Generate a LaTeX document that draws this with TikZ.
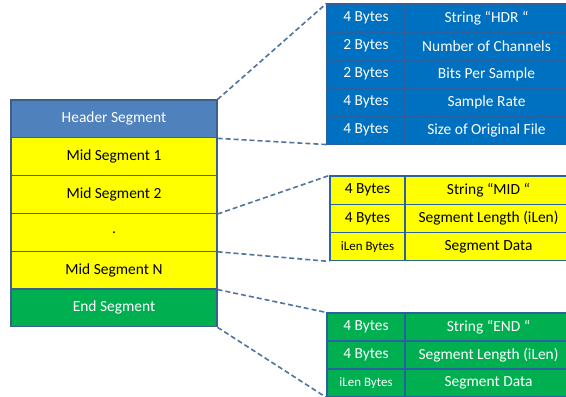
\documentclass[tikz,border=0pt]{standalone}
\usepackage{fontspec}
\setmainfont{Carlito}
\definecolor{hdrblue}{HTML}{4F81BD}
\definecolor{tblblue}{HTML}{0070C0}
\definecolor{gridblue}{HTML}{2A62A0}
\definecolor{edgeblue}{HTML}{3A5F8F}
\definecolor{segyellow}{HTML}{FFFF00}
\definecolor{seggreen}{HTML}{00B050}
\definecolor{dashblue}{HTML}{4F74A0}
\begin{document}
\begin{tikzpicture}[x=1bp,y=-1bp,
  cell/.style={draw=edgeblue, line width=1.1bp, inner sep=0pt, anchor=center, font=\fontsize{15.5}{18}\selectfont},
  seg/.style={cell, minimum width=206bp, minimum height=37.8bp},
  hcell/.style={cell, draw=gridblue, fill=tblblue, text=white, minimum height=28bp},
  mcell/.style={cell, draw=gridblue, fill=segyellow, minimum height=28.3bp},
  ecell/.style={cell, draw=gridblue, fill=seggreen, text=white, minimum height=28bp},
  lcol/.style={minimum width=78bp},
  rcol/.style={minimum width=163bp},
  lcolm/.style={minimum width=75bp},
  rcolm/.style={minimum width=167bp},
  small/.style={font=\fontsize{13}{15}\selectfont},
  conn/.style={draw=dashblue, line width=1.6bp, dash pattern=on 5bp off 3bp}
]
\clip (0,0) rectangle (566,396);
\fill[white] (0,0) rectangle (566,396);

% left stack
\node[seg, fill=hdrblue, text=white] (h)  at (114,118.9) {Header Segment};
\node[seg, fill=segyellow] (m1) at (114,156.7) {Mid Segment 1};
\node[seg, fill=segyellow] (m2) at (114,194.5) {Mid Segment 2};
\node[seg, fill=segyellow] (dot) at (114,232.3) {.};
\node[seg, fill=segyellow] (mn) at (114,270.1) {Mid Segment N};
\node[seg, fill=seggreen, text=white] (e) at (114,307.9) {End Segment};

% header table
\node[hcell, lcol] (h1a) at (366,18) {4 Bytes};
\node[hcell, rcol] (h1b) at (486.5,18) {String “HDR “};
\node[hcell, lcol] (h2a) at (366,46) {2 Bytes};
\node[hcell, rcol] (h2b) at (486.5,46) {Number of Channels};
\node[hcell, lcol] (h3a) at (366,74) {2 Bytes};
\node[hcell, rcol] (h3b) at (486.5,74) {Bits Per Sample};
\node[hcell, lcol] (h4a) at (366,102) {4 Bytes};
\node[hcell, rcol] (h4b) at (486.5,102) {Sample Rate};
\node[hcell, lcol] (h5a) at (366,130) {4 Bytes};
\node[hcell, rcol] (h5b) at (486.5,130) {Size of Original File};

% mid table
\node[mcell, lcolm] (d1a) at (367.5,190.15) {4 Bytes};
\node[mcell, rcolm] (d1b) at (488.5,190.15) {String “MID “};
\node[mcell, lcolm] (d2a) at (367.5,218.45) {4 Bytes};
\node[mcell, rcolm] (d2b) at (488.5,218.45) {Segment Length (iLen)};
\node[mcell, lcolm, small] (d3a) at (367.5,246.75) {iLen Bytes};
\node[mcell, rcolm] (d3b) at (488.5,246.75) {Segment Data};

% end table
\node[ecell, lcol] (e1a) at (366,327) {4 Bytes};
\node[ecell, rcolm] (e1b) at (488.5,327) {String “END “};
\node[ecell, lcol] (e2a) at (366,355) {4 Bytes};
\node[ecell, rcolm] (e2b) at (488.5,355) {Segment Length (iLen)};
\node[ecell, lcol, small] (e3a) at (366,383) {iLen Bytes};
\node[ecell, rcolm] (e3b) at (488.5,383) {Segment Data};

% connectors
\draw[conn] (h.north east) -- (h1a.north west);
\draw[conn] (h.south east) -- (h5a.south west);
\draw[conn] (m2.south east) -- (d1a.north west);
\draw[conn] (dot.south east) -- (d3a.south west);
\draw[conn] (mn.south east) -- (e1a.north west);
\draw[conn] (e.south east) -- (e3a.south west);
\end{tikzpicture}
\end{document}
